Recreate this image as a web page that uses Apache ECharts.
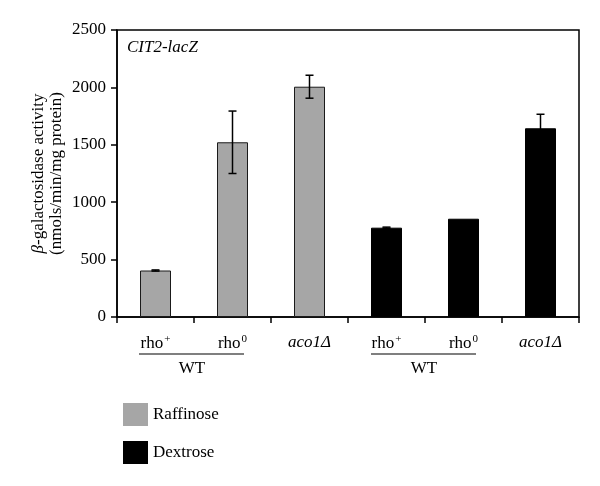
<!DOCTYPE html>
<html><head><meta charset="utf-8">
<script src="https://cdn.jsdelivr.net/npm/echarts@6/dist/echarts.min.js"></script>
<style>html,body{margin:0;padding:0;background:#fff}#c{width:600px;height:486px}</style>
</head><body><div id="c"></div>
<script>
const categories = ['rho+', 'rho0', 'aco1Δ', 'rho+ ', 'rho0 ', 'aco1Δ '];
const raffinose = [405, 1522, 2006, '-', '-', '-'];
const dextrose = ['-', '-', '-', 778, 856, 1644];
const errors = [5, 272, 100, 5, 0, 122];
const yTicks = [0, 500, 1000, 1500, 2000, 2500];

const F = '"Liberation Serif", "DejaVu Serif", serif';
const chart = echarts.init(document.getElementById('c'));
const values = categories.map((c, i) => raffinose[i] !== '-' ? raffinose[i] : dextrose[i]);
const errData = categories.map((c, i) => [i, values[i], errors[i]]);

function labelFmt(v) {
  const t = v.trim();
  if (t === 'rho+') return 'rho{sup|+}';
  if (t === 'rho0') return 'rho{sup|0}';
  return '{it|aco1Δ}';
}

chart.setOption({
  animation: false,
  grid: { left: 117, right: 21, top: 30, bottom: 169, show: true, borderColor: '#000', borderWidth: 1.5 },
  legend: {
    orient: 'vertical', left: 118, top: 398, itemWidth: 25, itemHeight: 23, itemGap: 15,
    itemStyle: { borderWidth: 0 },
    textStyle: { fontFamily: F, fontSize: 17, color: '#000', padding: [0, 0, 0, 0] },
    data: ['Raffinose', 'Dextrose'], icon: 'rect'
  },
  xAxis: {
    type: 'category', data: categories,
    axisLine: { lineStyle: { color: '#000', width: 1.5 } },
    axisTick: { show: true, length: 6, lineStyle: { color: '#000', width: 1.5 } },
    axisLabel: {
      interval: 0, margin: 17, fontFamily: F, fontSize: 17, color: '#000', formatter: labelFmt,
      rich: {
        sup: { fontFamily: F, fontSize: 11, color: '#000', padding: [0, 0, 9, 1] },
        it: { fontFamily: F, fontSize: 17, fontStyle: 'italic', color: '#000' }
      }
    }
  },
  yAxis: {
    type: 'value', min: 0, max: 2500, interval: 500,
    axisLine: { show: true, lineStyle: { color: '#000', width: 1.5 } },
    axisTick: { show: true, length: 6, lineStyle: { color: '#000', width: 1.5 } },
    splitLine: { show: false },
    axisLabel: { fontFamily: F, fontSize: 17, color: '#000', margin: 11,
      formatter: v => yTicks.includes(v) ? String(v) : '' },
    name: '{b|β}-galactosidase activity\n(nmols/min/mg protein)',
    nameLocation: 'middle', nameGap: 52, nameRotate: 90, nameMoveOverlap: false,
    nameTextStyle: { fontFamily: F, fontSize: 17, color: '#000', lineHeight: 17.5,
      rich: { b: { fontFamily: F, fontSize: 17, fontStyle: 'italic', color: '#000', lineHeight: 17.5 } } }
  },
  series: [
    { name: 'Raffinose', type: 'bar', stack: 's', data: raffinose, barWidth: 31,
      itemStyle: { color: '#a6a6a6', borderColor: '#1a1a1a', borderWidth: 1 } },
    { name: 'Dextrose', type: 'bar', stack: 's', data: dextrose, barWidth: 31,
      itemStyle: { color: '#000', borderColor: '#000', borderWidth: 1 } },
    { type: 'custom', data: errData, z: 10,
      renderItem: function (params, api) {
        const x = api.value(0), v = api.value(1), e = api.value(2);
        if (!e) return null;
        const hi = api.coord([x, v + e]), lo = api.coord([x, v - e]);
        const w = 4, s = { stroke: '#000', lineWidth: 1.5 };
        return { type: 'group', children: [
          { type: 'line', shape: { x1: hi[0], y1: hi[1], x2: lo[0], y2: lo[1] }, style: s },
          { type: 'line', shape: { x1: hi[0] - w, y1: hi[1], x2: hi[0] + w, y2: hi[1] }, style: s },
          { type: 'line', shape: { x1: lo[0] - w, y1: lo[1], x2: lo[0] + w, y2: lo[1] }, style: s }
        ] };
      }
    }
  ],
  graphic: [
    { type: 'text', left: 127, top: 39, style: { text: 'CIT2-lacZ', fontFamily: F, fontSize: 17, fontStyle: 'italic', fill: '#000' } },
    { type: 'line', shape: { x1: 139, y1: 354, x2: 244, y2: 354 }, style: { stroke: '#000', lineWidth: 1.2 } },
    { type: 'line', shape: { x1: 371, y1: 354, x2: 476, y2: 354 }, style: { stroke: '#000', lineWidth: 1.2 } },
    { type: 'text', x: 192, y: 369, style: { text: 'WT', fontFamily: F, fontSize: 17, fill: '#000', align: 'center', verticalAlign: 'middle' } },
    { type: 'text', x: 424, y: 369, style: { text: 'WT', fontFamily: F, fontSize: 17, fill: '#000', align: 'center', verticalAlign: 'middle' } }
  ]
});
</script></body></html>
